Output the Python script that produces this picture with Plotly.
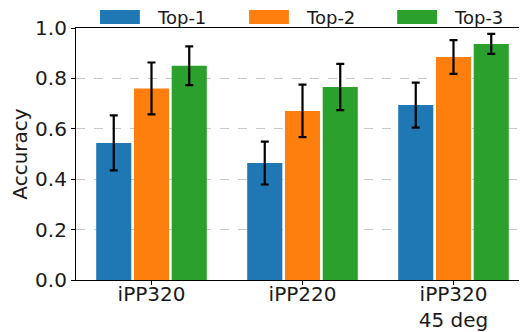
import plotly.graph_objects as go

categories = ["iPP320", "iPP220", "iPP320<br>45 deg"]
series_names = ["Top-1", "Top-2", "Top-3"]
values = {
    "Top-1": [0.544, 0.464, 0.694],
    "Top-2": [0.760, 0.671, 0.885],
    "Top-3": [0.850, 0.766, 0.937],
}
errors = {
    "Top-1": [0.109, 0.085, 0.089],
    "Top-2": [0.103, 0.104, 0.067],
    "Top-3": [0.077, 0.092, 0.040],
}
y_ticks = [0.0, 0.2, 0.4, 0.6, 0.8, 1.0]
colors = ["#1f77b4", "#ff7f0e", "#2ca02c"]

FONT = "DejaVu Sans"

fig = go.Figure()
for name, col in zip(series_names, colors):
    fig.add_trace(go.Bar(
        x=list(range(len(categories))), y=values[name], name=name,
        marker=dict(color=col, line=dict(width=0)),
        error_y=dict(type="data", array=errors[name], color="black",
                     thickness=2.2, width=4),
        showlegend=False,
    ))

# custom legend (patch + label) above the plot area
leg_patch_x = [(0.053, 0.141), (0.382, 0.470), (0.709, 0.797)]
shapes = []
annotations = []
for (x0, x1), name, col in zip(leg_patch_x, series_names, colors):
    shapes.append(dict(type="rect", xref="paper", yref="paper",
                       x0=x0, x1=x1, y0=1.016, y1=1.071,
                       fillcolor=col, line=dict(width=0)))
    annotations.append(dict(xref="paper", yref="paper", x=x1 + 0.035, y=1.042,
                            text=name, showarrow=False, xanchor="left",
                            yanchor="middle", borderpad=0,
                            font=dict(family=FONT, size=18, color="#1a1a1a")))

fig.update_layout(
    width=527, height=332,
    margin=dict(l=68, r=6, t=20, b=60, autoexpand=False),
    paper_bgcolor="white", plot_bgcolor="white",
    barmode="group", bargap=0.25, bargroupgap=0.07,
    font=dict(family=FONT, size=20, color="#1a1a1a"),
    shapes=shapes, annotations=annotations,
    xaxis=dict(
        range=[-0.5, 2.5], tickvals=list(range(len(categories))),
        ticktext=categories, showline=True, linecolor="black", linewidth=1.2,
        mirror=True, ticks="outside", ticklen=4, tickcolor="black",
        showgrid=False, zeroline=False, tickfont=dict(size=20),
        automargin=False, ticklabelstandoff=-8,
    ),
    yaxis=dict(
        range=[0, 1.0], tickvals=y_ticks,
        ticktext=[f"{v:.1f}" for v in y_ticks],
        showline=True, linecolor="black", linewidth=1.2,
        ticks="outside", ticklen=4, tickcolor="black",
        showgrid=True, gridcolor="#c8c8c8", griddash="dash", gridwidth=1,
        zeroline=False, tickfont=dict(size=20), automargin=False,
        title=dict(text="Accuracy", font=dict(size=20), standoff=6),
    ),
)

fig.write_html("out.html")
